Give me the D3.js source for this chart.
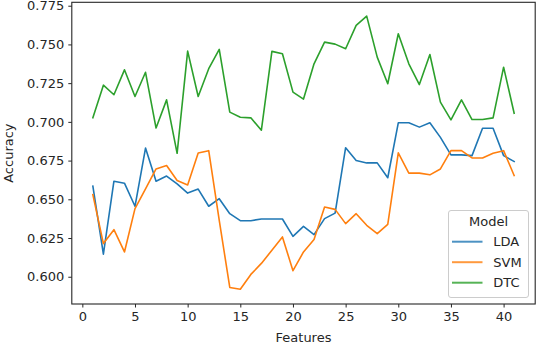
<!DOCTYPE html>
<html><head><meta charset="utf-8">
<script src="https://cdn.jsdelivr.net/npm/d3@7"></script>
<style>
html,body{margin:0;padding:0;background:#fff;}
svg{display:block;font-family:"DejaVu Sans",sans-serif;}
</style></head>
<body>
<svg id="chart" width="536" height="344"></svg>
<script>
const features = d3.range(1, 42);
const lda = [0.6585,0.6146,0.6617,0.6604,0.6455,0.6831,0.6617,0.6650,0.6600,0.6540,
  0.6566,0.6455,0.6504,0.6407,0.6362,0.6362,0.6373,0.6373,0.6373,0.6261,
  0.6325,0.6272,0.6375,0.6411,0.6833,0.6750,0.6735,0.6735,0.6639,0.6994,
  0.6994,0.6966,0.6994,0.6900,0.6787,0.6787,0.6782,0.6959,0.6959,0.6782,0.6744];
const svm = [0.6530,0.6214,0.6304,0.6160,0.6440,0.6568,0.6696,0.6718,0.6621,0.6593,
  0.6799,0.6814,0.6364,0.5931,0.5919,0.6015,0.6086,0.6171,0.6257,0.6039,
  0.6160,0.6240,0.6450,0.6435,0.6343,0.6407,0.6332,0.6278,0.6338,0.6800,
  0.6669,0.6669,0.6658,0.6696,0.6814,0.6814,0.6767,0.6767,0.6797,0.6814,0.6654];
const dtc = [0.7026,0.7237,0.7175,0.7336,0.7164,0.7320,0.6960,0.7142,0.6797,0.7457,
  0.7164,0.7343,0.7468,0.7063,0.7030,0.7026,0.6946,0.7455,0.7440,0.7192,
  0.7147,0.7375,0.7515,0.7502,0.7472,0.7623,0.7683,0.7418,0.7246,0.7569,
  0.7375,0.7241,0.7435,0.7127,0.7013,0.7142,0.7015,0.7015,0.7026,0.7353,0.7056];
const seriesNames = ["LDA","SVM","DTC"];
const seriesData = [lda, svm, dtc];
const colors = ["#1f77b4","#ff7f0e","#2ca02c"];
const xTicks = [0,5,10,15,20,25,30,35,40];
const yTicks = [0.600,0.625,0.650,0.675,0.700,0.725,0.750,0.775];

const svg = d3.select("#chart");
const L = 71.8, R = 535.2, T = 2.3, B = 304;
const x = d3.scaleLinear().domain([-1, 43]).range([L, R]);
const y = d3.scaleLinear().domain([0.5824, 0.7772]).range([B, T]);
const fs = 13;

const line = d3.line().x((d,i)=>x(features[i])).y(d=>y(d));
seriesData.forEach((s,k)=>{
  svg.append("path").datum(s).attr("d", line)
    .attr("fill","none").attr("stroke", colors[k]).attr("stroke-width",1.6)
    .attr("stroke-linejoin","round").attr("stroke-linecap","square");
});

// frame
svg.append("rect").attr("x",L).attr("y",T).attr("width",R-L).attr("height",B-T)
  .attr("fill","none").attr("stroke","#262626").attr("stroke-width",1.1);

const xAxis = d3.axisBottom(x).tickValues(xTicks).tickSize(3.5).tickPadding(4).tickFormat(d3.format("d"));
const gx = svg.append("g").attr("transform",`translate(0,${B})`).call(xAxis);
const yAxis = d3.axisLeft(y).tickValues(yTicks).tickSize(3.5).tickPadding(4).tickFormat(d3.format(".3f"));
const gy = svg.append("g").attr("transform",`translate(${L},0)`).call(yAxis);
[gx,gy].forEach(g=>{
  g.select(".domain").remove();
  g.selectAll(".tick line").attr("stroke","#262626").attr("stroke-width",1);
  g.selectAll(".tick text").attr("fill","#262626").attr("font-size",fs).attr("font-family","DejaVu Sans");
});

svg.append("text").attr("x",(L+R)/2).attr("y",342).attr("text-anchor","middle")
  .attr("font-size",fs).attr("fill","#262626").text("Features");
svg.append("text").attr("transform",`translate(13,${(T+B)/2}) rotate(-90)`).attr("text-anchor","middle")
  .attr("font-size",fs).attr("fill","#262626").text("Accuracy");

// legend
const lg = svg.append("g");
lg.append("rect").attr("x",448.5).attr("y",210.5).attr("width",80).attr("height",87).attr("rx",2.5)
  .attr("fill","#fff").attr("fill-opacity",0.8).attr("stroke","#cccccc").attr("stroke-width",1);
lg.append("text").attr("x",488.5).attr("y",226).attr("text-anchor","middle")
  .attr("font-size",fs).attr("fill","#262626").text("Model");
seriesNames.forEach((n,k)=>{
  const yy = 241.7 + k*20.5;
  lg.append("line").attr("x1",452).attr("x2",482.5).attr("y1",yy).attr("y2",yy)
    .attr("stroke",colors[k]).attr("stroke-width",2).attr("stroke-opacity",0.8);
  lg.append("text").attr("x",493.3).attr("y",yy+4.6).attr("font-size",fs).attr("fill","#262626").text(n);
});
</script>
</body></html>
